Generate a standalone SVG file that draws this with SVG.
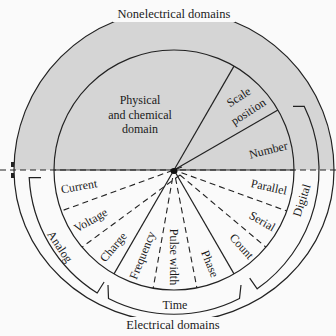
<svg xmlns="http://www.w3.org/2000/svg" width="336" height="336" viewBox="0 0 336 336">
<style>
.ln{fill:none;stroke:#222;stroke-width:1.2}
.ds{fill:none;stroke:#222;stroke-width:1.1;stroke-dasharray:6 4}
.t{font-family:"Liberation Serif","Times New Roman",serif;font-size:12px;fill:#1a1a1a;text-anchor:middle;dominant-baseline:central}
.tb{font-family:"Liberation Serif","Times New Roman",serif;font-size:12.5px;fill:#1a1a1a;text-anchor:middle;dominant-baseline:central}
</style>
<rect width="336" height="336" fill="#fafafa"/>
<g id="nonelectrical">
<path d="M14 170 A160 160 0 0 1 334 170 Z" fill="#d5d5d5"/>
<path class="ln" d="M14 170 A160 160 0 0 1 334 170"/>
<path class="ln" d="M54 170 A120 120 0 0 1 294 170"/>
</g>
<g id="electrical">
<path class="ln" d="M334 170 A160 152 0 0 1 14 170"/>
<path class="ln" d="M294 170 A120 120 0 0 1 54 170"/>
</g>
<g id="connectors">
<line class="ds" x1="0" y1="170" x2="336" y2="170"/>
<line class="ln" x1="54" y1="170" x2="294" y2="170"/>
<line class="ln" x1="174" y1="170" x2="234" y2="66.1"/>
<line class="ln" x1="174" y1="170" x2="277.9" y2="110"/>
<line class="ds" x1="182" y1="167" x2="61.2" y2="211"/>
<line class="ds" x1="180" y1="175" x2="82.1" y2="247.1"/>
<line class="ln" x1="174" y1="170" x2="114" y2="273.9"/>
<line class="ds" x1="172.6" y1="178" x2="153.2" y2="288.2"/>
<line class="ds" x1="175.5" y1="178" x2="196.9" y2="287.8"/>
<line class="ln" x1="174" y1="170" x2="234" y2="273.9"/>
<line class="ds" x1="180" y1="175" x2="265.9" y2="247.1"/>
<line class="ds" x1="181.5" y1="172.7" x2="286.8" y2="211"/>
<ellipse cx="174" cy="171" rx="3.5" ry="3" fill="#111"/>
<rect x="11" y="162" width="3" height="5" fill="#222"/>
<rect x="11" y="173" width="3" height="5" fill="#222"/>
</g>
<g id="brackets">
<path class="ln" d="M293 106.4 L304.3 106.4 A145 145 0 0 1 257.2 288.8 L249.7 278.2"/>
<path class="ln" d="M41 177.6 L29.2 177.6 A145 145 0 0 0 97.2 293 L104.1 282"/>
<path class="ln" d="M108 285 L108.5 298.5 A144 144 0 0 0 239.5 298.5 L241 285"/>
</g>
<g id="top-label">
<rect x="113" y="5" width="122" height="17" fill="#fafafa"/>
<text class="tb" x="174" y="14">Nonelectrical domains</text>
</g>
<g id="bottom-label">
<rect x="118" y="317" width="112" height="17" fill="#fafafa"/>
<text class="tb" x="173" y="325">Electrical domains</text>
</g>
<g id="physical">
<text class="t" x="140" y="100">Physical</text>
<text class="t" x="140" y="115">and chemical</text>
<text class="t" x="140" y="129">domain</text>
</g>
<g id="scale-position">
<text class="t" transform="translate(238.7 97) rotate(-33)">Scale</text>
<text class="t" transform="translate(248.3 111.7) rotate(-33)">position</text>
</g>
<g id="number"><text class="t" transform="translate(268.3 150) rotate(-14)">Number</text></g>
<g id="current"><text class="t" transform="translate(79 186.3) rotate(-10)">Current</text></g>
<g id="voltage"><text class="t" transform="translate(90.7 220.3) rotate(-30)">Voltage</text></g>
<g id="charge"><text class="t" transform="translate(113.3 247) rotate(-50)">Charge</text></g>
<g id="frequency"><text class="t" transform="translate(142.3 255.3) rotate(-68)">Frequency</text></g>
<g id="pulse-width"><text class="t" transform="translate(174 257) rotate(90)">Pulse width</text></g>
<g id="phase"><text class="t" transform="translate(210 263.7) rotate(68)">Phase</text></g>
<g id="count"><text class="t" transform="translate(241.7 246.3) rotate(48)">Count</text></g>
<g id="serial"><text class="t" transform="translate(262.3 221.3) rotate(30)">Serial</text></g>
<g id="parallel"><text class="t" transform="translate(269 187) rotate(12)">Parallel</text></g>
<g id="digital"><text class="t" transform="translate(301.7 200.3) rotate(-72)">Digital</text></g>
<g id="analog"><text class="t" transform="translate(60 246.7) rotate(56)">Analog</text></g>
<g id="time"><text class="t" x="175" y="305">Time</text></g>
</svg>
